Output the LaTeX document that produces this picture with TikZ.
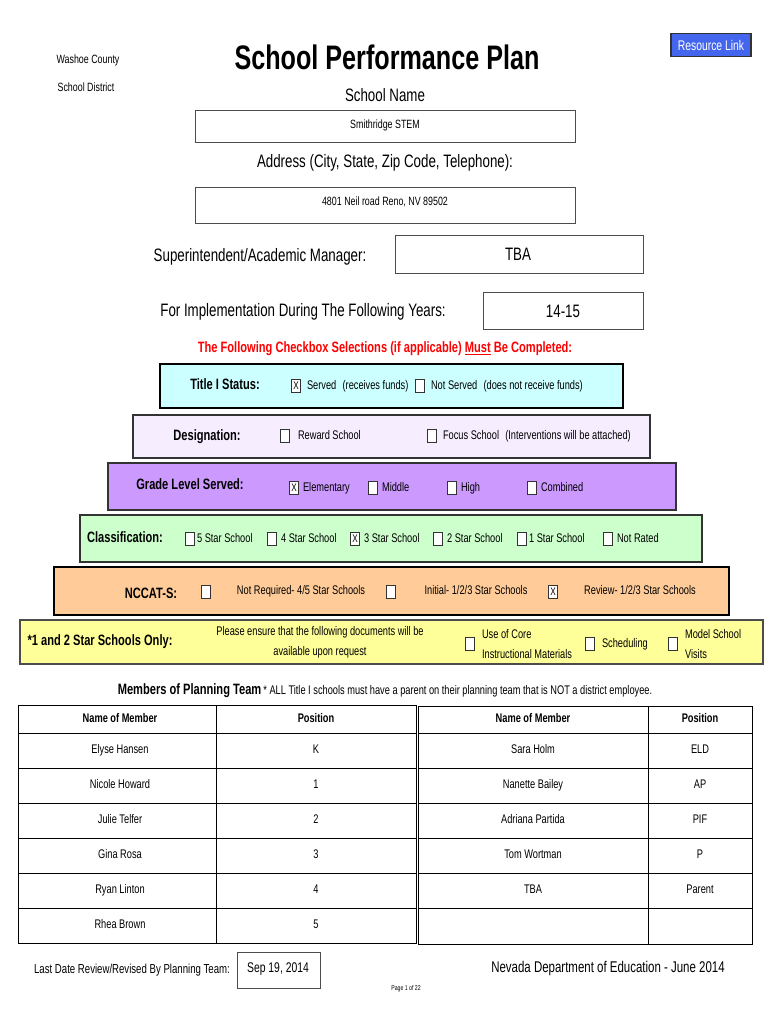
\documentclass[tikz,border=0pt]{standalone}
\usepackage{fontspec}
\setmainfont[FakeStretch=0.74]{Liberation Sans}
\usetikzlibrary{positioning}
\definecolor{titlecyan}{HTML}{CCFFFF}
\definecolor{desiglilac}{HTML}{F6EEFF}
\definecolor{gradepurple}{HTML}{CC99FF}
\definecolor{classgreen}{HTML}{CCFFCC}
\definecolor{nccatorange}{HTML}{FFCC99}
\definecolor{staryellow}{HTML}{FFFF99}
\definecolor{linkblue}{HTML}{4466EE}
\tikzset{
  fieldbox/.style={draw=black!70, line width=0.8pt},
  band/.style={draw=black, line width=1.2pt},
  lbl/.style={font=\fontsize{12}{14}\selectfont, inner sep=0pt},
  big/.style={font=\fontsize{18}{20}\selectfont, inner sep=0pt},
  head/.style={font=\bfseries\fontsize{15}{16}\selectfont, inner sep=0pt},
  small/.style={font=\fontsize{12}{13}\selectfont, inner sep=0pt},
  opt/.style={font=\fontsize{12.5}{13}\selectfont, inner sep=0pt, anchor=west, text height=9pt, text depth=3pt},
  cell/.style={font=\fontsize{12.5}{13}\selectfont, inner sep=0pt, text height=9pt, text depth=3pt},
  box/.style={draw=black!80, fill=white, minimum width=9pt, minimum height=13pt, inner sep=0pt, line width=0.7pt},
}
\newcommand{\cb}[2]{\node[box] (#1) at (#2) {};}
\newcommand{\cbx}[2]{\node[box, font=\fontsize{11}{11}\selectfont] (#1) at (#2) {X};}
\begin{document}
\begin{tikzpicture}[x=1pt,y=-1pt]
\useasboundingbox (0,0) rectangle (770,1024);
% header
\node[small] (county) at (88,60) {Washoe County};
\node[small] (district) at (86,87) {School District};
\node[font=\bfseries\fontsize{34}{36}\selectfont, inner sep=0pt] (title) at (387,57) {School Performance Plan};
\node[draw=black!80, line width=1.5pt, fill=linkblue, minimum width=80pt, minimum height=23pt, text=white, font=\fontsize{14}{15}\selectfont] (link) at (711,45) {Resource Link};
\node[big] (schoolname) at (385,95) {School Name};
\draw[fieldbox] (195,110) rectangle (575,142);
\node[small] (school) at (385,125) {Smithridge STEM};
\node[big] (address) at (385,163) {Address (City, State, Zip Code, Telephone):};
\draw[fieldbox] (195,187) rectangle (575,223);
\node[small] (addr) at (385,202) {4801 Neil road Reno, NV 89502};
\node[big] (supt) at (260,257) {Superintendent/Academic Manager:};
\draw[fieldbox] (395,235) rectangle (643,273);
\node[big] (tba) at (518,254) {TBA};
\node[big] (impl) at (303,312) {For Implementation During The Following Years:};
\draw[fieldbox] (483,292) rectangle (643,329);
\node[big] (years) at (563,311) {14-15};
\node[text=red, font=\bfseries\fontsize{15}{16}\selectfont, inner sep=0pt] (must) at (385,349) {The Following Checkbox Selections (if applicable) \underline{Must} Be Completed:};
% bands
\draw[band, fill=titlecyan] (160,364) rectangle (623,408);
\node[head] (titleI) at (225,384) {Title I Status:};
\cbx{t1}{296,386} \node[opt, right=6pt of t1] {Served\enspace(receives funds)};
\cb{t2}{420,386} \node[opt, right=6pt of t2] {Not Served\enspace(does not receive funds)};
\draw[band, draw=black!80, fill=desiglilac] (133,415) rectangle (650,458);
\node[head] (desig) at (207,437) {Designation:};
\cb{d1}{285,436} \node[opt, right=8pt of d1] {Reward School};
\cb{d2}{432,436} \node[opt, right=6pt of d2] {Focus School\enspace(Interventions will be attached)};
\draw[band, draw=black!80, fill=gradepurple] (108,463) rectangle (676,510);
\node[head] (grade) at (190,484) {Grade Level Served:};
\cbx{g1}{294,488} \node[opt, right=4pt of g1] {Elementary};
\cb{g2}{373,488} \node[opt, right=4pt of g2] {Middle};
\cb{g3}{452,488} \node[opt, right=4pt of g3] {High};
\cb{g4}{532,488} \node[opt, right=4pt of g4] {Combined};
\draw[band, draw=black!80, fill=classgreen] (80,515) rectangle (702,562);
\node[head] (class) at (125,537) {Classification:};
\cb{c1}{190,539} \node[opt, right=2pt of c1] {5 Star School};
\cb{c2}{272,539} \node[opt, right=4pt of c2] {4 Star School};
\cbx{c3}{355,539} \node[opt, right=4pt of c3] {3 Star School};
\cb{c4}{438,539} \node[opt, right=4pt of c4] {2 Star School};
\cb{c5}{522,539} \node[opt, right=2pt of c5] {1 Star School};
\cb{c6}{608,539} \node[opt, right=4pt of c6] {Not Rated};
\draw[band, fill=nccatorange] (54,567) rectangle (729,615);
\node[head] (nccat) at (151,593) {NCCAT-S:};
\cb{n1}{206,592} \node[cell] at (301,591) {Not Required- 4/5 Star Schools};
\cb{n2}{391,592} \node[cell] at (476,591) {Initial- 1/2/3 Star Schools};
\cbx{n3}{553,592} \node[cell] at (640,591) {Review- 1/2/3 Star Schools};
\draw[band, draw=black!70, fill=staryellow] (20,620) rectangle (763,664);
\node[head] (star) at (100,642) {*1 and 2 Star Schools Only:};
\node[align=center, inner sep=0pt, font=\fontsize{12.5}{20}\selectfont] (ensure) at (320,642) {Please ensure that the following documents will be\\available upon request};
\cb{s1}{470,644} \node[align=left, inner sep=0pt, font=\fontsize{12.5}{20}\selectfont, right=7pt of s1] {Use of Core\\Instructional Materials};
\cb{s2}{590,644} \node[opt, right=7pt of s2] {Scheduling};
\cb{s3}{673,644} \node[align=left, inner sep=0pt, font=\fontsize{12.5}{20}\selectfont, right=7pt of s3] {Model School\\Visits};
% planning team
\node[inner sep=0pt] (members) at (385,691) {{\bfseries\fontsize{15}{16}\selectfont Members of Planning Team} {\fontsize{12.5}{13}\selectfont * ALL Title I schools must have a parent on their planning team that is NOT a district employee.}};
\draw[line width=1pt] (18,705) rectangle (416,943);
\draw[line width=1pt] (216,705) -- (216,943);
\foreach \y in {733,768,803,838,873,908} \draw[line width=1pt] (18,\y) -- (416,\y);
\draw[line width=1pt] (418,706) rectangle (752,944);
\draw[line width=1pt] (648,706) -- (648,944);
\foreach \y in {733,768,803,838,873,908} \draw[line width=1pt] (418,\y) -- (752,\y);
\node[cell, font=\bfseries\fontsize{12.5}{13}\selectfont] at (120,719) {Name of Member};
\node[cell, font=\bfseries\fontsize{12.5}{13}\selectfont] at (316,719) {Position};
\node[cell, font=\bfseries\fontsize{12.5}{13}\selectfont] at (533,719) {Name of Member};
\node[cell, font=\bfseries\fontsize{12.5}{13}\selectfont] at (700,719) {Position};
\foreach \n/\p [count=\i] in {Elyse Hansen/K, Nicole Howard/1, Julie Telfer/2, Gina Rosa/3, Ryan Linton/4, Rhea Brown/5}
  \node[cell] at (120,715.5+35*\i) {\n} node[cell] at (316,715.5+35*\i) {\p};
\foreach \n/\p [count=\i] in {Sara Holm/ELD, Nanette Bailey/AP, Adriana Partida/PIF, Tom Wortman/P, TBA/Parent}
  \node[cell] at (533,715.5+35*\i) {\n} node[cell] at (700,715.5+35*\i) {\p};
% footer
\node[lbl, font=\fontsize{13}{15}\selectfont] (lastdate) at (132,970) {Last Date Review/Revised By Planning Team:};
\draw[fieldbox] (237,952) rectangle (320,988);
\node[lbl, font=\fontsize{14}{15}\selectfont] (date) at (278,969) {Sep 19, 2014};
\node[lbl, font=\fontsize{15.5}{17}\selectfont] (nde) at (608,968) {Nevada Department of Education - June 2014};
\node[inner sep=0pt, font=\fontsize{7}{8}\selectfont] (page) at (406,989) {Page 1 of 22};
\end{tikzpicture}
\end{document}
